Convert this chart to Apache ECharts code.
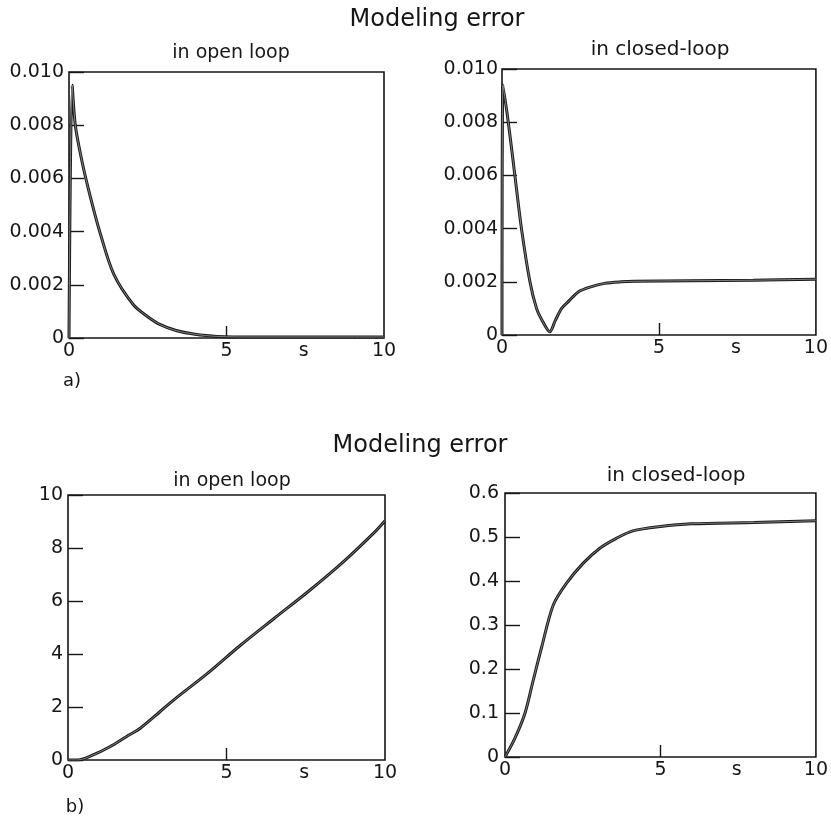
<!DOCTYPE html>
<html><head><meta charset="utf-8">
<script src="https://cdn.jsdelivr.net/npm/echarts@6/dist/echarts.min.js"></script>
<style>html,body{margin:0;padding:0;background:#fff}#c{width:831px;height:819px}</style>
</head><body><div id="c"></div>
<script>
// ---- data ----
// a) open loop
const tOpenA   = [0, 0.1, 0.2, 0.42, 0.68, 1.0, 1.42, 2.05, 2.5, 2.9, 3.4, 3.95, 4.7, 6, 8, 10];
const errOpenA = [0, 0.0095, 0.0080, 0.0066, 0.0053, 0.0039, 0.0024, 0.00124, 0.0008, 0.0005, 0.00028, 0.00015, 0.00006, 0.00004, 0.00004, 0.00004];
// a) closed loop
const tClosedA   = [0, 0.03, 0.2, 0.41, 0.62, 0.89, 1.1, 1.3, 1.52, 1.7, 1.9, 2.15, 2.43, 2.8, 3.27, 3.8, 4.22, 6, 8, 10];
const errClosedA = [0, 0.0094, 0.0080, 0.0060, 0.0040, 0.0020, 0.0010, 0.0005, 0.00012, 0.00055, 0.0010, 0.0013, 0.00162, 0.0018, 0.00194, 0.0020, 0.00202, 0.00204, 0.00206, 0.0021];
// b) open loop
const tOpenB   = [0, 0.31, 0.79, 1.32, 1.84, 2.28, 2.9, 3.33, 4.4, 5.45, 6.51, 7.57, 8.63, 9.69, 10];
const errOpenB = [0, 0, 0.19, 0.5, 0.88, 1.2, 1.82, 2.26, 3.27, 4.34, 5.35, 6.35, 7.42, 8.62, 9.03];
// b) closed loop
const tClosedB   = [0, 0.32, 0.64, 0.91, 1.18, 1.55, 1.98, 2.51, 3.04, 3.58, 4.11, 5.0, 6.0, 8.0, 10];
const errClosedB = [0, 0.043, 0.099, 0.175, 0.25, 0.345, 0.395, 0.44, 0.474, 0.497, 0.514, 0.524, 0.530, 0.533, 0.537];

// axis ticks / labels
const xLabelValues = [0, 5, 10];
const xTickValues = [5];
const xUnitLabel = 's';
const xUnitAt = 7.45;
const yRangeA = [0, 0.010], yStepA = 0.002;
const yRangeOpenB = [0, 10], yStepOpenB = 2;
const yRangeClosedB = [0, 0.6], yStepClosedB = 0.1;

const mainTitle = 'Modeling error';
const subOpen = 'in open loop';
const subClosed = 'in closed-loop';
const panelTags = ['a)', 'b)'];

// ---- chart ----
const FONT = 'DejaVu Sans';
const INK = '#161616';
const zip = (a, b) => a.map((v, i) => [v, b[i]]);

const grids = [
  {left: 69, top: 72, width: 315, height: 266},
  {left: 502, top: 69, width: 315, height: 266},
  {left: 68, top: 495, width: 317, height: 265},
  {left: 505, top: 493, width: 312, height: 264}
].map(g => Object.assign(g, {show: true, borderColor: INK, borderWidth: 1.6, backgroundColor: 'transparent', containLabel: false}));

function xAxis(i) {
  return {
    gridIndex: i, type: 'value', min: 0, max: 10,
    axisLine: {show: false},
    splitLine: {show: false},
    axisTick: {show: true, inside: true, length: 12, customValues: xTickValues, lineStyle: {color: INK, width: 1.4}},
    axisLabel: {
      show: true, customValues: xLabelValues.concat([xUnitAt]), margin: 4,
      fontFamily: FONT, fontSize: 19, color: INK,
      formatter: v => (Math.abs(v - xUnitAt) < 1e-9 ? xUnitLabel : String(v))
    }
  };
}
function yAxis(i, range, step, fmt, margin) {
  return {
    gridIndex: i, type: 'value', min: range[0], max: range[1], interval: step,
    axisLine: {show: false},
    splitLine: {show: false},
    axisTick: {show: true, inside: true, length: 15, lineStyle: {color: INK, width: 1.4}},
    axisLabel: {margin: margin, fontFamily: FONT, fontSize: 19, color: INK, formatter: fmt}
  };
}
const fmtA = v => (v === 0 ? '0' : v.toFixed(3));
const fmtB1 = v => String(Math.round(v));
const fmtB2 = v => (v === 0 ? '0' : v.toFixed(1));

function curve(i, data) {
  return [
    {type: 'line', xAxisIndex: i, yAxisIndex: i, data: data, showSymbol: false, silent: true,
     smooth: 0.3, lineStyle: {color: '#1b1b1b', width: 3}, z: 2},
    {type: 'line', xAxisIndex: i, yAxisIndex: i, data: data, showSymbol: false, silent: true,
     smooth: 0.3, lineStyle: {color: '#9a9a9a', width: 0.8}, z: 3}
  ];
}

function txt(x, y, s, size) {
  return {type: 'text', x: x, y: y, style: {text: s, fontFamily: FONT, fontSize: size, fill: INK, align: 'center', verticalAlign: 'middle'}};
}

const chart = echarts.init(document.getElementById('c'), null, {renderer: 'canvas'});
chart.setOption({
  animation: false,
  backgroundColor: '#fff',
  grid: grids,
  xAxis: [xAxis(0), xAxis(1), xAxis(2), xAxis(3)],
  yAxis: [
    yAxis(0, yRangeA, yStepA, fmtA, 5),
    yAxis(1, yRangeA, yStepA, fmtA, 4),
    yAxis(2, yRangeOpenB, yStepOpenB, fmtB1, 5),
    yAxis(3, yRangeClosedB, yStepClosedB, fmtB2, 6)
  ],
  series: [].concat(
    curve(0, zip(tOpenA, errOpenA)),
    curve(1, zip(tClosedA, errClosedA)),
    curve(2, zip(tOpenB, errOpenB)),
    curve(3, zip(tClosedB, errClosedB))
  ),
  graphic: [
    txt(437, 20, mainTitle, 24),
    txt(231, 53, subOpen, 19),
    txt(660, 50, subClosed, 20),
    txt(72, 381, panelTags[0], 18),
    txt(420, 446, mainTitle, 24),
    txt(232, 481, subOpen, 19),
    txt(676, 476, subClosed, 20),
    txt(75, 807, panelTags[1], 18)
  ]
});
</script>
</body></html>
